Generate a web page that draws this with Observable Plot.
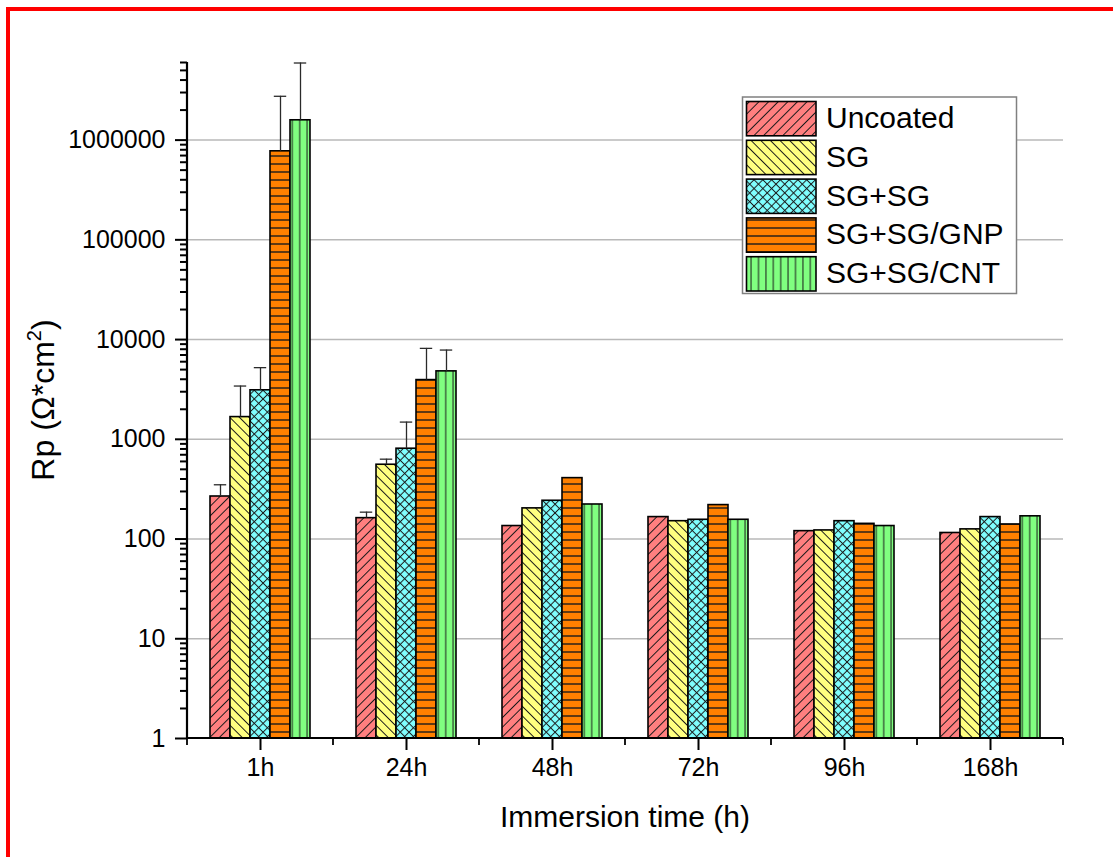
<!DOCTYPE html>
<html><head><meta charset="utf-8">
<script src="https://cdn.jsdelivr.net/npm/d3@7"></script>
<script src="https://cdn.jsdelivr.net/npm/@observablehq/plot@0.6"></script>
<style>
body{margin:0;background:#fff;}
#chart{position:relative;width:1113px;height:857px;overflow:hidden;}
</style></head><body><div id="chart"></div>
<script>
// ---- data ----
const times = ["1h", "24h", "48h", "72h", "96h", "168h"];
const series = ["Uncoated", "SG", "SG+SG", "SG+SG/GNP", "SG+SG/CNT"];
const uncoated = [267, 162, 135, 166, 120, 115];
const sg = [1670, 556, 203, 151, 122, 125];
const sgsg = [3100, 805, 242, 156, 151, 166];
const gnp = [772000, 3925, 408, 219, 142, 140];
const cnt = [1580000, 4800, 222, 156, 135, 169];
// upper end of error bars (null = none shown)
const uncoatedErr = [350, 186, null, null, null, null];
const sgErr = [3420, 632, null, null, null, null];
const sgsgErr = [5230, 1488, null, null, null, null];
const gnpErr = [2750000, 8160, null, null, null, null];
const cntErr = [5930000, 7850, null, null, null, null];
const yMajorTicks = [1, 10, 100, 1000, 10000, 100000, 1000000];

// ---- styles ----
const fills = ["#FF7F7F", "#FFFF80", "#80FFFF", "#FF8000", "#80FF80"];
const hatch = ["fwd", "back", "cross", "horiz", "vert"];

const values = [uncoated, sg, sgsg, gnp, cnt];
const errs = [uncoatedErr, sgErr, sgsgErr, gnpErr, cntErr];
const rows = [];
times.forEach((t, i) => series.forEach((s, j) => rows.push({time: t, series: s, value: values[j][i], err: errs[j][i]})));
const errRows = rows.filter(d => d.err != null);
const yMinorTicks = [];
for (let e = 0; e <= 6; e++) for (let k = 2; k <= 9; k++) { const v = k * Math.pow(10, e); if (v <= 6e6) yMinorTicks.push(v); }

const patUrl = series.map((_, i) => `url(#hp${i})`);

const plot = Plot.plot({
  width: 1113, height: 857,
  marginLeft: 187, marginRight: 50, marginTop: 62, marginBottom: 119,
  style: {fontFamily: "'Liberation Sans', Arial, sans-serif", background: "white", color: "black", overflow: "visible"},
  fx: {domain: times, padding: 0, label: null},
  x: {domain: series, paddingInner: 0, paddingOuter: 1.06, axis: null},
  y: {type: "log", domain: [1, 6e6], label: null},
  color: {type: "ordinal", domain: series, range: patUrl},
  marks: [
    Plot.gridY({ticks: yMajorTicks.slice(1), stroke: "#b8b8b8", strokeOpacity: 1, strokeWidth: 1.5}),
    Plot.barY(rows, {fx: "time", x: "series", y1: 1, y2: "value", fill: "series", stroke: "black", strokeWidth: 1.6}),
    Plot.ruleX(errRows, {fx: "time", x: "series", y1: "value", y2: "err", stroke: "#2a2a2a", strokeWidth: 1.3}),
    Plot.tickY(errRows, {fx: "time", x: "series", y: "err", insetLeft: 3.8, insetRight: 3.8, stroke: "#2a2a2a", strokeWidth: 1.3}),
    Plot.axisY({ticks: yMajorTicks, tickSize: 12, tickPadding: 10, tickFormat: d3.format("d"), fontSize: 25, strokeWidth: 2, label: null}),
    Plot.axisY({ticks: yMinorTicks, tickSize: 7, tickFormat: () => "", strokeWidth: 2, label: null}),
    Plot.axisFx({anchor: "bottom", tickSize: 12, tickPadding: 8, fontSize: 25, strokeWidth: 2, label: null})
  ]
});

document.getElementById("chart").appendChild(plot);
const svg = d3.select(plot);

// hatch patterns
const defs = svg.insert("defs", ":first-child");
hatch.forEach((h, i) => {
  let s = h === "cross" ? 6.2 : (h === "horiz" ? 8 : (h === "vert" ? 7.4 : 6.8));
  const p = defs.append("pattern").attr("id", `hp${i}`).attr("patternUnits", "userSpaceOnUse")
    .attr("width", s).attr("height", s);
  if (h === "fwd" || h === "cross") p.attr("patternTransform", "rotate(45)");
  if (h === "back") p.attr("patternTransform", "rotate(-45)");
  p.append("rect").attr("width", s).attr("height", s).attr("fill", fills[i]);
  const ln = (x1, y1, x2, y2) => p.append("line").attr("x1", x1).attr("y1", y1).attr("x2", x2).attr("y2", y2)
    .attr("stroke", "#1a1a1a").attr("stroke-width", h === "horiz" ? 1.4 : 1);
  if (h === "horiz") ln(0, s / 2, s, s / 2);
  else ln(s / 2, 0, s / 2, s);
  if (h === "cross") ln(0, s / 2, s, s / 2);
});

// axis lines and minor x ticks from the library's scales
const yS = plot.scale("y"), fxS = plot.scale("fx");
const yBottom = yS.range[0], yTop = yS.range[1];
const xLeft = fxS.range[0], xRight = fxS.range[1];
const g = svg.append("g");
g.append("line").attr("x1", xLeft).attr("x2", xLeft).attr("y1", yTop).attr("y2", yBottom).attr("stroke", "black").attr("stroke-width", 2.2);
g.append("line").attr("x1", xLeft).attr("x2", xRight).attr("y1", yBottom).attr("y2", yBottom).attr("stroke", "black").attr("stroke-width", 2.2);
const bounds = times.map(t => fxS.apply(t)).concat([xRight]);
bounds.forEach(b => g.append("line").attr("x1", b).attr("x2", b).attr("y1", yBottom).attr("y2", yBottom + 7).attr("stroke", "black").attr("stroke-width", 1.8));

// axis titles
svg.append("text").attr("transform", `translate(54,${(yTop + yBottom) / 2}) rotate(-90)`)
  .attr("text-anchor", "middle").attr("font-size", 32).attr("fill", "black")
  .call(t => { t.append("tspan").text("Rp (Ω*cm"); t.append("tspan").attr("font-size", 20).attr("dy", -13).text("2"); t.append("tspan").attr("dy", 13).text(")"); });
svg.append("text").attr("x", (xLeft + xRight) / 2).attr("y", 827).attr("text-anchor", "middle")
  .attr("font-size", 30).attr("fill", "black").text("Immersion time (h)");

// legend
const lg = svg.append("g").attr("text-anchor", "start");
lg.append("rect").attr("x", 742.5).attr("y", 97).attr("width", 274).attr("height", 196.5)
  .attr("fill", "white").attr("stroke", "#808080").attr("stroke-width", 1.5);
series.forEach((s, i) => {
  const y0 = 101.5 + i * 38.8;
  lg.append("rect").attr("x", 746.5).attr("y", y0).attr("width", 69.5).attr("height", 34.3)
    .attr("fill", patUrl[i]).attr("stroke", "black").attr("stroke-width", 1.6);
  lg.append("text").attr("x", 826).attr("y", y0 + 16).attr("dy", "0.35em").attr("text-anchor", "start")
    .attr("font-size", 30).attr("fill", "black").text(s);
});

// red frame
svg.append("rect").attr("x", 8).attr("y", 9).attr("width", 1300).attr("height", 1000)
  .attr("fill", "none").attr("stroke", "red").attr("stroke-width", 4);
</script></body></html>
